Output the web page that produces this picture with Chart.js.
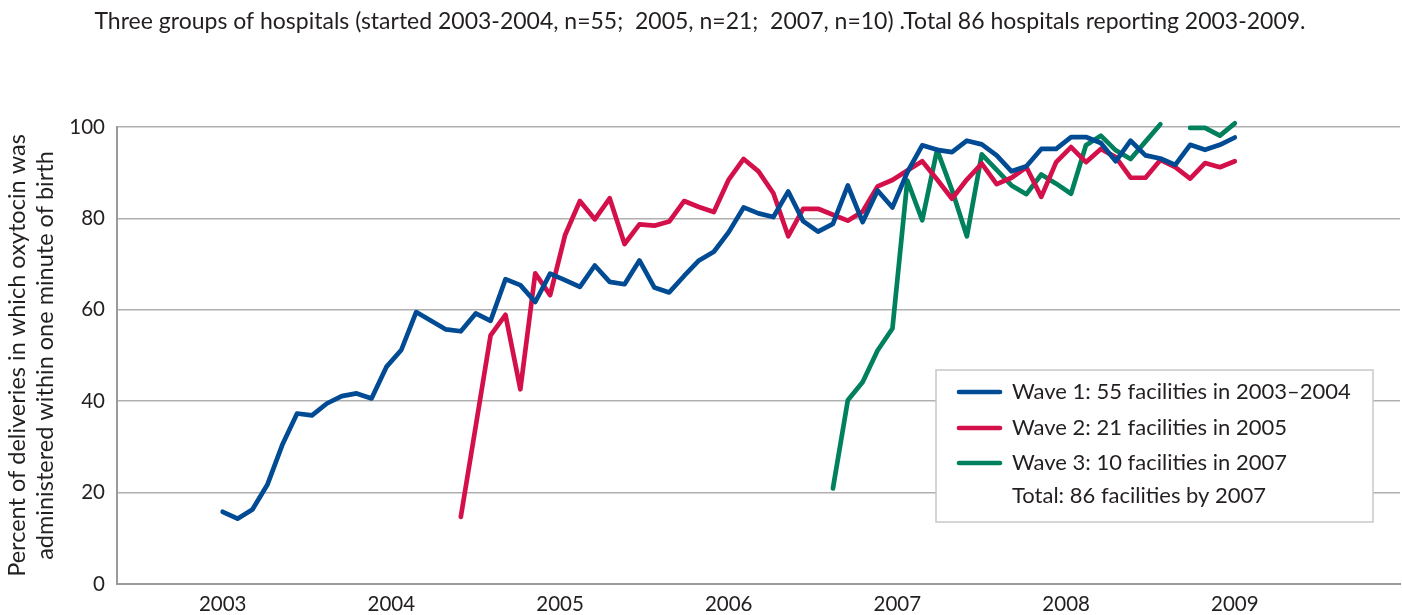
<!DOCTYPE html>
<html>
<head>
<meta charset="utf-8">
<script src="https://cdn.jsdelivr.net/npm/chart.js@4.4.0/dist/chart.umd.min.js"></script>
<style>
    html, body { margin: 0; padding: 0; background: #fff; }
</style>
</head>
<body>
<canvas id="chart" width="1402" height="615"></canvas>
<script>
// reporting periods are counted from the first wave 1 report (period 0)
var wave1Start = 0
var wave1 = [15.8, 14.3, 16.3, 21.7, 30.4, 37.3, 36.9, 39.5, 41.1, 41.7,
             40.6, 47.5, 51.2, 59.5, 57.6, 55.7, 55.3, 59.2, 57.6, 66.7,
             65.4, 61.7, 67.9, 66.5, 65.0, 69.7, 66.1, 65.6, 70.8, 64.9,
             63.8, 67.4, 70.8, 72.7, 77.0, 82.4, 81.1, 80.3, 85.9, 79.4,
             77.1, 78.8, 87.2, 79.2, 86.1, 82.4, 90.1, 96.0, 95.0, 94.5,
             97.0, 96.2, 93.8, 90.3, 91.4, 95.2, 95.2, 97.8, 97.8, 96.5,
             92.5, 97.0, 93.8, 93.1, 91.7, 96.1, 95.0, 96.1, 97.7]

var wave2Start = 16
var wave2 = [14.7, 34.5, 54.4, 58.9, 42.6, 68.0, 63.2, 76.3, 83.8, 79.8,
             84.4, 74.4, 78.7, 78.4, 79.3, 83.8, 82.5, 81.4, 88.5, 93.0,
             90.3, 85.5, 76.1, 82.1, 82.1, 80.8, 79.5, 81.5, 87.0, 88.4,
             90.5, 92.5, 88.5, 84.3, 88.5, 92.0, 87.5, 88.9, 91.2, 84.7,
             92.3, 95.6, 92.3, 95.2, 93.4, 88.9, 88.9, 92.8, 91.2, 88.7,
             92.1, 91.2, 92.5]

var wave3Start = 41
var wave3 = [20.9, 40.2, 44.2, 51.1, 55.9, 88.3, 79.6, 95.0, 86.2, 76.1,
             94.0, 90.6, 87.2, 85.3, 89.6, 87.6, 85.4, 96.0, 98.1, 94.9,
             93.0, 96.8, 100.6, null, 99.8, 99.8, 98.1, 100.8]

var yearLabels = ['2003', '2004', '2005', '2006', '2007', '2008', '2009']
var yearTicks = [0, 11.33, 22.67, 34, 45.33, 56.67, 68]

var seriesNames = ['Wave 1: 55 facilities in 2003\u20132004',
                   'Wave 2: 21 facilities in 2005',
                   'Wave 3: 10 facilities in 2007']
var legendNote = 'Total: 86 facilities by 2007'

var titleText = 'Three groups of hospitals (started 2003-2004, n=55;  2005, n=21;  2007, n=10) .Total 86 hospitals reporting 2003-2009.'
var yTitle = ['Percent of deliveries in which oxytocin was', 'administered within one minute of birth']

var textColor = '#231f20'
var colors = ['#004b93', '#d4104a', '#00805c']

function toPoints(start, values) {
    var pts = []
    for (var i = 0; i < values.length; i++) {
        pts.push({ x: start + i, y: values[i] })
    }
    return pts
}

function lineSet(label, start, values, color) {
    return {
        label: label,
        data: toPoints(start, values),
        borderColor: color,
        backgroundColor: color,
        borderWidth: 4.7,
        borderCapStyle: 'round',
        borderJoinStyle: 'round',
        pointRadius: 0,
        tension: 0,
        spanGaps: false,
        clip: false
    }
}

// legend box drawn inside the plot, like the original
var legendBox = {
    id: 'legendBox',
    afterDraw: function (chart) {
        var ctx = chart.ctx
        ctx.save()
        ctx.fillStyle = '#fff'
        ctx.fillRect(936, 370, 437, 152)
        ctx.strokeStyle = '#c8c8c8'
        ctx.lineWidth = 1.5
        ctx.strokeRect(936, 370, 437, 152)

        var rows = [392, 428, 463, 496]
        ctx.font = '22px Lato'
        ctx.textBaseline = 'middle'
        ctx.textAlign = 'left'
        chart.data.datasets.forEach(function (ds, i) {
            ctx.strokeStyle = ds.borderColor
            ctx.lineWidth = 4.7
            ctx.lineCap = 'round'
            ctx.beginPath()
            ctx.moveTo(959, rows[i])
            ctx.lineTo(1000, rows[i])
            ctx.stroke()
            ctx.fillStyle = textColor
            ctx.fillText(ds.label, 1012, rows[i])
        })
        ctx.fillStyle = textColor
        ctx.fillText(legendNote, 1012, rows[3])
        ctx.restore()
    }
}

Chart.defaults.font.family = 'Lato'
Chart.defaults.font.size = 20.5
Chart.defaults.color = textColor

var ctx = document.getElementById('chart').getContext('2d')
var chart = new Chart(ctx, {
    type: 'line',
    data: {
        datasets: [
            lineSet(seriesNames[0], wave1Start, wave1, colors[0]),
            lineSet(seriesNames[1], wave2Start, wave2, colors[1]),
            lineSet(seriesNames[2], wave3Start, wave3, colors[2])
        ]
    },
    options: {
        responsive: false,
        animation: false,
        layout: { padding: { top: 0, left: 0, right: 2, bottom: 0 } },
        plugins: {
            legend: { display: false },
            tooltip: { enabled: false },
            title: {
                display: true,
                text: titleText,
                color: textColor,
                font: { size: 23, weight: 'normal' },
                padding: { top: 8, bottom: 91.4 }
            }
        },
        scales: {
            x: {
                type: 'linear',
                min: -7.1,
                max: 79.1,
                grid: { display: false, drawTicks: false },
                border: { display: true, color: '#9a9a9a', width: 2 },
                afterBuildTicks: function (scale) {
                    scale.ticks = yearTicks.map(function (v) { return { value: v } })
                },
                afterFit: function (scale) { scale.height = 31 },
                ticks: {
                    autoSkip: false,
                    maxRotation: 0,
                    padding: 8,
                    callback: function (value, index) { return yearLabels[index] }
                }
            },
            y: {
                min: 0,
                max: 100,
                afterFit: function (scale) { scale.width = 117 },
                grid: { color: '#b0b0b0', lineWidth: 1.5, drawTicks: false },
                border: { display: true, color: '#9a9a9a', width: 2 },
                ticks: { stepSize: 20, padding: 12 },
                title: {
                    display: true,
                    text: yTitle,
                    color: textColor,
                    font: { size: 23.5, lineHeight: 1.19 },
                    padding: { top: 3, bottom: 0 }
                }
            }
        }
    },
    plugins: [legendBox]
})
</script>
</body>
</html>
